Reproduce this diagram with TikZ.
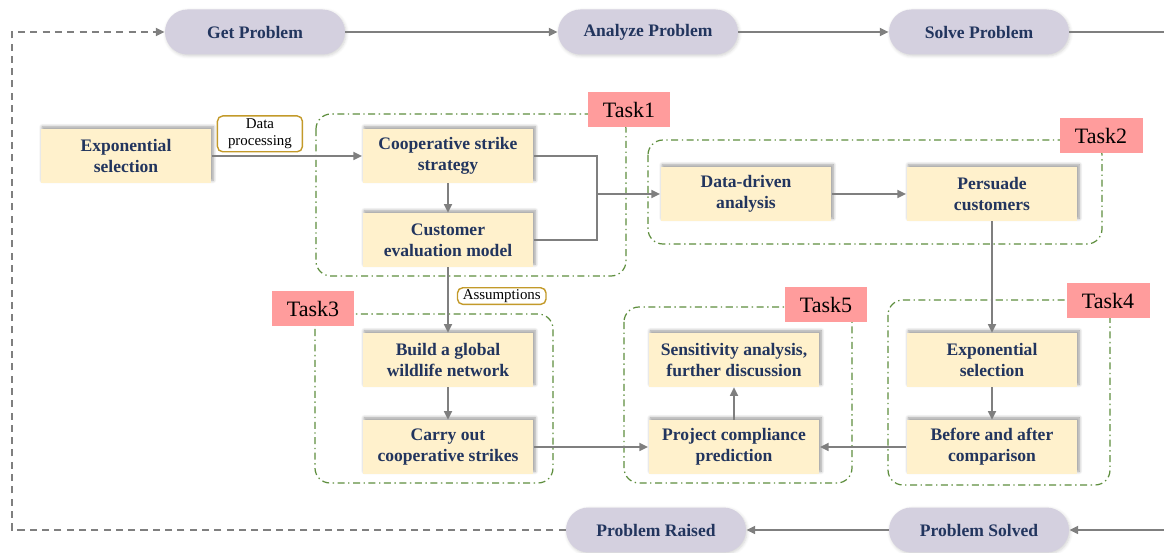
\documentclass[tikz,border=0pt]{standalone}
\usepackage{fontspec}
\setmainfont{Liberation Serif}
\usetikzlibrary{arrows.meta,shadows.blur}

\definecolor{pillgray}{HTML}{D4D0DF}
\definecolor{boxyellow}{HTML}{FFF1CC}
\definecolor{navy}{HTML}{22355E}
\definecolor{linegray}{HTML}{7F7F7F}
\definecolor{framegreen}{HTML}{5E8E3E}
\definecolor{tagpink}{HTML}{FF9C9C}
\definecolor{notegold}{HTML}{C39A2A}

\begin{document}
\begin{tikzpicture}[x=0.02cm, y=-0.02cm,
    >={Triangle[length=5pt,width=4.5pt]},
    stage/.style={fill=pillgray, rounded corners=0.45cm, minimum width=3.6cm, minimum height=0.9cm,
        text=navy, font=\bfseries\fontsize{10}{12}\selectfont,
        blur shadow={shadow xshift=0.6pt, shadow yshift=-0.8pt, shadow opacity=18, shadow blur steps=5}},
    block/.style={fill=boxyellow, minimum width=3.42cm, minimum height=1.07cm, align=center,
        text=navy, font=\bfseries\fontsize{10}{12}\selectfont,
        blur shadow={shadow xshift=1pt, shadow yshift=1.4pt, shadow opacity=40, shadow blur steps=6}},
    flow/.style={draw=linegray, line width=1.1pt},
    loopback/.style={draw=linegray, line width=1.1pt, dash pattern=on 4pt off 3pt},
    taskframe/.style={draw=framegreen, line width=0.7pt, rounded corners=0.3cm,
        dash pattern=on 4pt off 2pt on 0.8pt off 2pt},
    tasktag/.style={fill=tagpink, font=\fontsize{12.5}{14}\selectfont, minimum width=1.66cm,
        minimum height=0.7cm, inner sep=0pt},
    note/.style={draw=notegold, fill=white, rounded corners=3pt, line width=0.8pt, align=center,
        font=\fontsize{8.5}{10}\selectfont, inner xsep=3pt, inner ysep=1.5pt, minimum width=1.7cm}]

\useasboundingbox (0,0) rectangle (1164,553);

% task groups
\draw[taskframe] (316,114) rectangle (626,276);
\draw[taskframe] (648,140) rectangle (1102,244);
\draw[taskframe] (315,314) rectangle (553,483);
\draw[taskframe] (624,307) rectangle (852,483);
\draw[taskframe] (888,300) rectangle (1110,485);
\node[tasktag] (tag1) at (629,110) {Task1};
\node[tasktag] (tag2) at (1101,136) {Task2};
\node[tasktag] (tag3) at (313,309) {Task3};
\node[tasktag] (tag5) at (826,305) {Task5};
\node[tasktag] (tag4) at (1108,301) {Task4};

% stages
\node[stage] (getp) at (255,32) {Get Problem};
\node[stage] (analyze) at (648,32) {Analyze Problem};
\node[stage] (solve) at (979,32) {Solve Problem};
\node[stage] (raised) at (656,530) {Problem Raised};
\node[stage] (solved) at (979,530) {Problem Solved};

% steps
\node[block] (expsel) at (126,156) {Exponential\\selection};
\node[block] (coop) at (448,156) {Cooperative strike\\strategy};
\node[block] (custeval) at (448,240) {Customer\\evaluation model};
\node[block] (datadriven) at (746,194) {Data-driven\\analysis};
\node[block] (persuade) at (992,194) {Persuade\\customers};
\node[block] (network) at (448,360) {Build a global\\wildlife network};
\node[block] (strikes) at (448,447) {Carry out\\cooperative strikes};
\node[block] (sensitivity) at (734,360) {Sensitivity analysis,\\further discussion};
\node[block] (compliance) at (734,447) {Project compliance\\prediction};
\node[block] (expsel2) at (992,360) {Exponential\\selection};
\node[block] (compare) at (992,447) {Before and after\\comparison};

\coordinate (join) at (597,194);
\coordinate (eastout) at (1164,32);
\coordinate (eastin) at (1164,530);
\coordinate (cornerlow) at (12,530);
\coordinate (cornerhigh) at (12,32);

% main flow
\draw[flow,->] (getp) -- (analyze);
\draw[flow,->] (analyze) -- (solve);
\draw[flow] (solve) -- (eastout);
\draw[flow,->] (eastin) -- (solved);
\draw[flow,->] (solved) -- (raised);
\draw[loopback,->] (raised) -- (cornerlow) -- (cornerhigh) -- (getp);

\draw[flow,->] (expsel) -- node[note, pos=0.32, above=2pt] {Data\\processing} (coop);
\draw[flow,->] (coop) -- (custeval);
\draw[flow] (coop.east) -| (join);
\draw[flow] (custeval.east) -| (join);
\draw[flow,->] (join) -- (datadriven);
\draw[flow,->] (datadriven) -- (persuade);
\draw[flow,->] (persuade) -- (expsel2);
\draw[flow,->] (expsel2) -- (compare);
\draw[flow,->] (compare) -- (compliance);
\draw[flow,->] (compliance) -- (sensitivity);
\draw[flow,->] (custeval) -- node[note, pos=0.44, right=5pt, minimum width=0pt, inner ysep=1pt] {Assumptions} (network);
\draw[flow,->] (network) -- (strikes);
\draw[flow,->] (strikes) -- (compliance);
\end{tikzpicture}
\end{document}
